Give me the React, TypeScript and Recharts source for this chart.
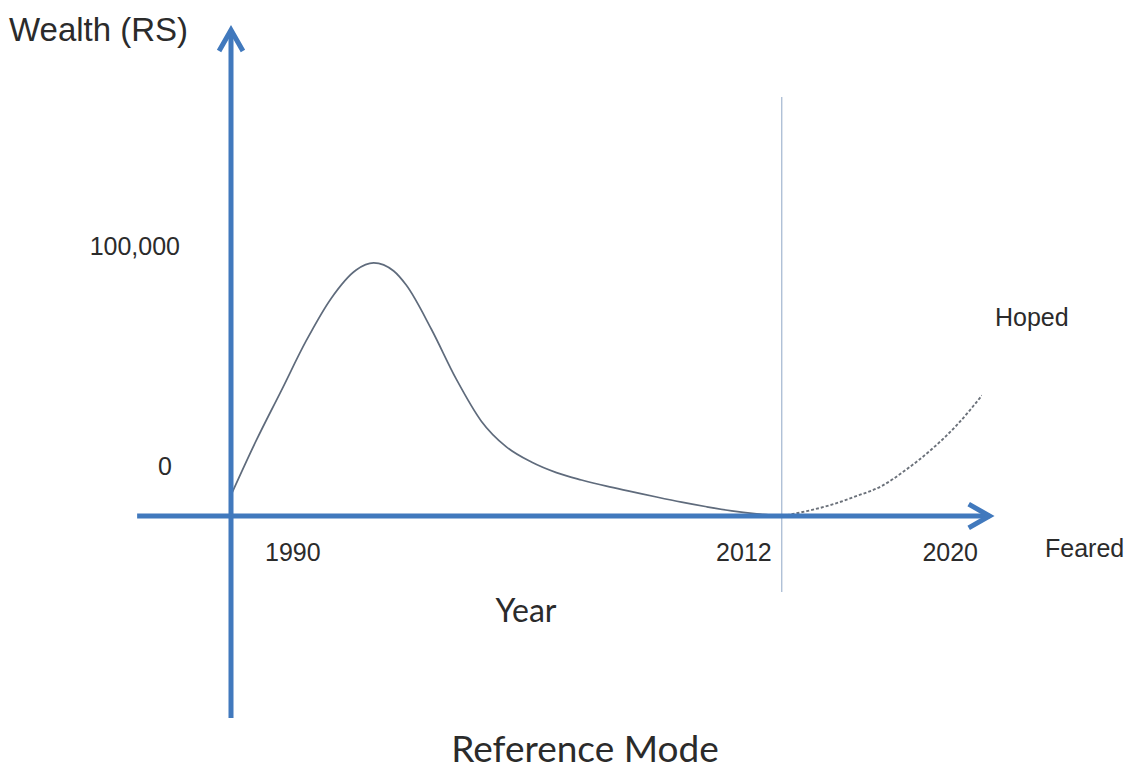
import { LineChart, Line, XAxis, YAxis, ReferenceLine, Customized } from 'recharts';

// Actual path of wealth (solid line)
const actualYears = [1990, 1991, 1992, 1993, 1994, 1995, 1995.7, 1996.5, 1997, 1998, 1999, 2000, 2001, 2002, 2003, 2004, 2005, 2006, 2007, 2008, 2009, 2010, 2011, 2012];
const actualWealth = [7700, 27700, 46100, 64600, 80300, 90800, 93400, 90400, 85200, 69000, 50500, 35000, 25500, 19900, 16000, 13300, 11000, 9000, 7000, 5100, 3400, 1900, 800, 0];

// Hoped path after 2012 (dashed line)
const hopedYears = [2012, 2013, 2014, 2015, 2016, 2017, 2018, 2019, 2020];
const hopedWealth = [0, 1800, 4200, 7400, 11100, 17300, 24700, 33600, 44500];

const xTicks = [1990, 2012, 2020];
const yTicks = [0, 100000];

const AXIS_BLUE = '#4179bd';

// build one table keyed by year for both series
const allYears = Array.from(new Set([...actualYears, ...hopedYears])).sort((a, b) => a - b);
const data = allYears.map(year => {
  const ai = actualYears.indexOf(year);
  const hi = hopedYears.indexOf(year);
  return {
    year,
    actual: ai >= 0 ? actualWealth[ai] : null,
    hoped: hi >= 0 ? hopedWealth[hi] : null,
  };
});

const textStyle = { fontFamily: '"Liberation Sans", Arial, sans-serif', fill: '#2b2b2b' };

// axis line with an open arrow head at the end point
const ArrowAxis = (props: any) => {
  const { x1, y1, x2, y2 } = props;
  const ang = Math.atan2(y2 - y1, x2 - x1);
  const len = 24;
  const spread = 0.52;
  const ax = x2 - len * Math.cos(ang - spread);
  const ay = y2 - len * Math.sin(ang - spread);
  const bx = x2 - len * Math.cos(ang + spread);
  const by = y2 - len * Math.sin(ang + spread);
  return (
    <g>
      <line x1={x1} y1={y1} x2={x2} y2={y2} stroke={AXIS_BLUE} strokeWidth={5} />
      <polyline
        points={`${ax},${ay} ${x2},${y2} ${bx},${by}`}
        fill="none"
        stroke={AXIS_BLUE}
        strokeWidth={5}
        strokeLinejoin="miter"
      />
    </g>
  );
};

const XTick = ({ x, payload }: any) => {
  const first = payload.value === xTicks[0];
  return (
    <text
      x={first ? x + 34 : x - (payload.value === 2012 ? 10 : 4)}
      y={561}
      textAnchor={first ? 'start' : 'end'}
      fontSize={25}
      style={textStyle}
    >
      {payload.value}
    </text>
  );
};

const YTick = ({ y, payload }: any) => {
  if (payload.value === 0) {
    return (
      <text x={172} y={y - 41} textAnchor="end" fontSize={25} style={textStyle}>
        0
      </text>
    );
  }
  return (
    <text x={180} y={y + 10} textAnchor="end" fontSize={25} style={textStyle}>
      {payload.value.toLocaleString('en-US')}
    </text>
  );
};

const Labels = () => (
  <g>
    <text x={9} y={41} fontSize={33} style={textStyle}>Wealth (RS)</text>
    <text x={995} y={326} fontSize={25} style={textStyle}>Hoped</text>
    <text x={1045} y={557} fontSize={25} style={textStyle}>Feared</text>
    <text x={526} y={622} fontSize={32} textAnchor="middle" style={{ ...textStyle, fontFamily: 'Lato, sans-serif' }}>Year</text>
    <text x={585} y={762} fontSize={37} textAnchor="middle" style={{ ...textStyle, fontFamily: 'Lato, sans-serif' }}>Reference Mode</text>
  </g>
);

const App = () => {
  return (
    <div style={{ position: 'absolute', left: 0, top: 0, width: 1129, height: 772, background: '#fff' }}>
      <LineChart width={1129} height={772} data={data} margin={{ top: 245, right: 147, bottom: 226, left: 230 }}>
        <XAxis
          dataKey="year"
          type="number"
          domain={[1990, 2020]}
          ticks={xTicks}
          axisLine={false}
          tickLine={false}
          height={30}
          tick={<XTick />}
          allowDataOverflow
        />
        <YAxis
          type="number"
          domain={[0, 100000]}
          ticks={yTicks}
          axisLine={false}
          tickLine={false}
          width={1}
          tick={<YTick />}
          allowDataOverflow
        />
        <ReferenceLine
          segment={[{ x: 2012, y: -28000 }, { x: 2012, y: 154600 }]}
          stroke="#a9bcd4"
          strokeWidth={1.3}
          ifOverflow="visible"
        />
        <Line
          type="monotone"
          dataKey="actual"
          stroke="#5f6b7c"
          strokeWidth={1.7}
          dot={false}
          connectNulls={false}
          isAnimationActive={false}
        />
        <Line
          type="monotone"
          dataKey="hoped"
          stroke="#6b717a"
          strokeWidth={1.9}
          strokeDasharray="3 2"
          dot={false}
          connectNulls={false}
          isAnimationActive={false}
        />
        <ReferenceLine
          segment={[{ x: 1990, y: -74500 }, { x: 1990, y: 179300 }]}
          ifOverflow="visible"
          shape={<ArrowAxis />}
        />
        <ReferenceLine
          segment={[{ x: 1986.25, y: 0 }, { x: 2020.3, y: 0 }]}
          ifOverflow="visible"
          shape={<ArrowAxis />}
        />
        <Customized component={Labels} />
      </LineChart>
    </div>
  );
};

export default App;
